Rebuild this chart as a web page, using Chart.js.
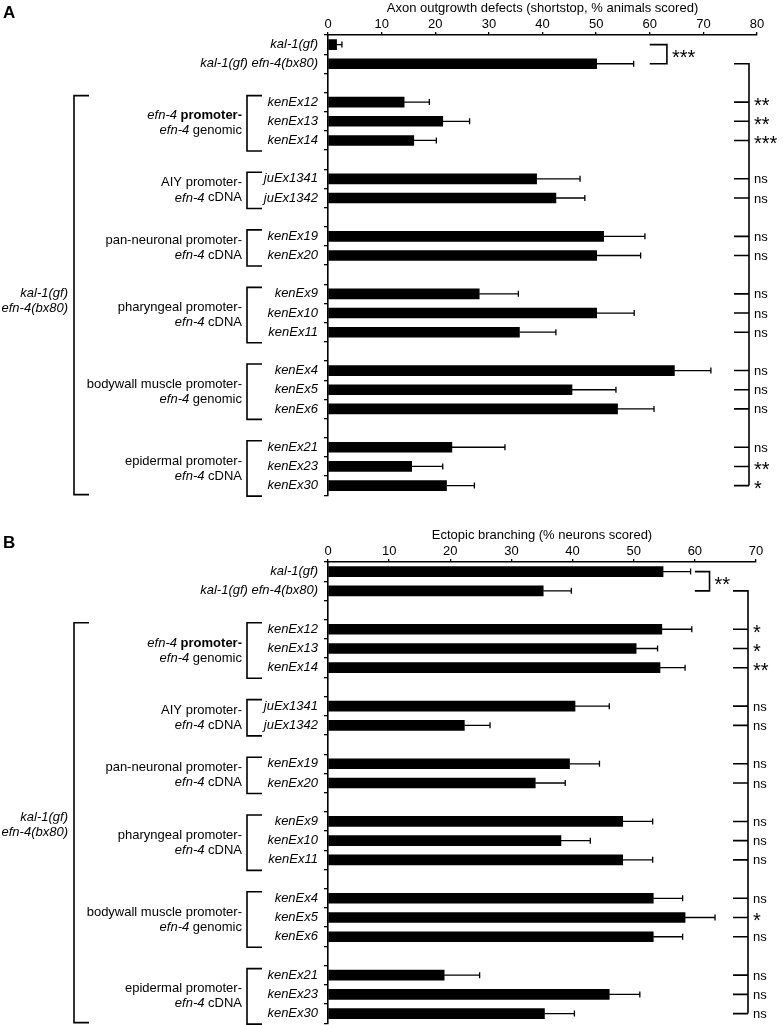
<!DOCTYPE html>
<html>
<head>
<meta charset="utf-8">
<script src="https://cdn.jsdelivr.net/npm/chart.js@4.4.1/dist/chart.umd.min.js"></script>
<style>
  html, body { margin: 0; padding: 0; background: #fff; }
  body { width: 783px; height: 1025px; position: relative; overflow: hidden; }
  canvas { position: absolute; left: 0; }
  #chartA { top: 0; }
  #chartB { top: 510px; }
</style>
</head>
<body>
<canvas id="chartA" width="783" height="509"></canvas>
<canvas id="chartB" width="783" height="527"></canvas>
<script>
const FAMILY = "'Liberation Sans', Arial, Helvetica, sans-serif";

// rows, blanks ('') separate the construct groups
const strains = [
  'kal-1(gf)', 'kal-1(gf) efn-4(bx80)', '',
  'kenEx12', 'kenEx13', 'kenEx14', '',
  'juEx1341', 'juEx1342', '',
  'kenEx19', 'kenEx20', '',
  'kenEx9', 'kenEx10', 'kenEx11', '',
  'kenEx4', 'kenEx5', 'kenEx6', '',
  'kenEx21', 'kenEx23', 'kenEx30'
];

// panel A: axon outgrowth defects
const shortstop =    [1.6, 50.1, null, 14.2, 21.4, 16.0, null, 38.9, 42.5, null, 51.4, 50.1, null, 28.2, 50.1, 35.7, null, 64.6, 45.5, 54.0, null, 23.1, 15.6, 22.1];
const shortstopErr = [1.0, 6.9, null, 4.7, 5.0, 4.2, null, 8.1, 5.4, null, 7.7, 8.2, null, 7.3, 7.0, 6.8, null, 6.8, 8.2, 6.8, null, 9.9, 5.8, 5.2];
const sigA = ['', '', '', '**', '**', '***', '', 'ns', 'ns', '', 'ns', 'ns', '', 'ns', 'ns', 'ns', '', 'ns', 'ns', 'ns', '', 'ns', '**', '*'];

// panel B: ectopic branching
const branching =    [54.8, 35.2, null, 54.6, 50.4, 54.3, null, 40.4, 22.3, null, 39.5, 33.9, null, 48.2, 38.1, 48.2, null, 53.2, 58.4, 53.2, null, 19.0, 46.0, 35.4];
const branchingErr = [4.5, 4.6, null, 4.9, 3.5, 4.1, null, 5.6, 4.2, null, 4.9, 4.9, null, 4.9, 4.8, 4.9, null, 4.8, 4.9, 4.8, null, 5.8, 5.0, 4.9];
const sigB = ['', '', '', '*', '*', '**', '', 'ns', 'ns', '', 'ns', 'ns', '', 'ns', 'ns', 'ns', '', 'ns', '*', 'ns', '', 'ns', 'ns', 'ns'];

const ticksA = [0, 10, 20, 30, 40, 50, 60, 70, 80];
const ticksB = [0, 10, 20, 30, 40, 50, 60, 70];

// construct groups: [first row, last row], label lines as [text, style] segments
const groupRows = [[3, 5], [7, 8], [10, 11], [13, 15], [17, 19], [21, 23]];
const groupLabels = [
  [[['efn-4', 'i'], [' promoter-', 'b']], [['efn-4', 'i'], [' genomic', 'n']]],
  [[['AIY promoter-', 'n']], [['efn-4', 'i'], [' cDNA', 'n']]],
  [[['pan-neuronal promoter-', 'n']], [['efn-4', 'i'], [' cDNA', 'n']]],
  [[['pharyngeal promoter-', 'n']], [['efn-4', 'i'], [' cDNA', 'n']]],
  [[['bodywall muscle promoter-', 'n']], [['efn-4', 'i'], [' genomic', 'n']]],
  [[['epidermal promoter-', 'n']], [['efn-4', 'i'], [' cDNA', 'n']]]
];
const backgroundLabel = ['kal-1(gf)', 'efn-4(bx80)'];

function font(style, size) {
  const s = size || 13;
  if (style === 'i') return 'italic ' + s + 'px ' + FAMILY;
  if (style === 'b') return 'bold ' + s + 'px ' + FAMILY;
  return s + 'px ' + FAMILY;
}

function drawRich(ctx, segs, xRight, y) {
  let x = xRight;
  ctx.textAlign = 'left';
  for (let k = segs.length - 1; k >= 0; k--) {
    ctx.font = font(segs[k][1]);
    x -= ctx.measureText(segs[k][0]).width;
    ctx.fillText(segs[k][0], x, y);
  }
}

function drawSig(ctx, txt, x, y) {
  if (!txt) return;
  ctx.textAlign = 'left';
  if (txt === 'ns') {
    ctx.font = font('n');
    ctx.textBaseline = 'middle';
    ctx.fillText(txt, x, y + 1);
  } else {
    ctx.font = font('n', 20);
    ctx.textBaseline = 'alphabetic';
    ctx.fillText(txt, x, y + 9.5);
  }
}

function annotations(opts) {
  return {
    id: 'annotations',
    afterDatasetsDraw(chart) {
      const { ctx, chartArea, scales: { x, y } } = chart;
      const vals = chart.data.datasets[0].data;
      ctx.save();
      ctx.strokeStyle = '#000';
      ctx.fillStyle = '#000';

      // error bars
      ctx.lineWidth = 1.3;
      vals.forEach((v, i) => {
        if (v == null) return;
        const yy = y.getPixelForValue(i);
        const x0 = x.getPixelForValue(v);
        const x1 = x.getPixelForValue(v + opts.errs[i]);
        ctx.beginPath();
        ctx.moveTo(x0, yy); ctx.lineTo(x1, yy);
        ctx.moveTo(x1, yy - 3); ctx.lineTo(x1, yy + 3);
        ctx.stroke();
      });

      ctx.lineWidth = 1.6;
      const L = chartArea.left, R = chartArea.right;

      // construct brackets and labels
      ctx.textBaseline = 'middle';
      groupRows.forEach(([a, b], g) => {
        const top = y.getPixelForValue(a) - 6.5;
        const bot = y.getPixelForValue(b) + 10.5;
        ctx.beginPath();
        ctx.moveTo(L - 66, top); ctx.lineTo(L - 81, top);
        ctx.lineTo(L - 81, bot); ctx.lineTo(L - 66, bot);
        ctx.stroke();
        const mid = (y.getPixelForValue(a) + y.getPixelForValue(b)) / 2 + 2;
        const lines = groupLabels[g];
        drawRich(ctx, lines[0], L - 86, mid - 7.5);
        drawRich(ctx, lines[1], L - 86, mid + 7.5);
      });

      // background bracket
      const bTop = y.getPixelForValue(groupRows[0][0]) - 6.5;
      const bBot = y.getPixelForValue(groupRows[groupRows.length - 1][1]) + 9;
      ctx.beginPath();
      ctx.moveTo(L - 239, bTop); ctx.lineTo(L - 254, bTop);
      ctx.lineTo(L - 254, bBot); ctx.lineTo(L - 239, bBot);
      ctx.stroke();
      const bMid = (bTop + bBot) / 2 + opts.bgShift;
      ctx.font = font('i');
      ctx.textAlign = 'right';
      ctx.fillText(backgroundLabel[0], L - 260, bMid - 7.5);
      ctx.fillText(backgroundLabel[1], L - 260, bMid + 7.5);

      // kal-1(gf) vs kal-1(gf) efn-4 comparison
      const y0 = y.getPixelForValue(0), y1 = y.getPixelForValue(1);
      const xa = x.getPixelForValue(opts.pairX[0]), xb = x.getPixelForValue(opts.pairX[1]);
      ctx.beginPath();
      ctx.moveTo(xa, y0); ctx.lineTo(xb, y0); ctx.lineTo(xb, y1); ctx.lineTo(xa, y1);
      ctx.stroke();
      drawSig(ctx, opts.pairSig, xb + 5, (y0 + y1) / 2);

      // comparisons against kal-1(gf) efn-4(bx80)
      const vx = R - 8, hx = R - 23;
      let last = 0;
      opts.sig.forEach((s, i) => { if (s) last = i; });
      ctx.beginPath();
      ctx.moveTo(hx, y1); ctx.lineTo(vx, y1); ctx.lineTo(vx, y.getPixelForValue(last));
      opts.sig.forEach((s, i) => {
        if (!s) return;
        const yy = y.getPixelForValue(i);
        ctx.moveTo(hx, yy); ctx.lineTo(vx, yy);
      });
      ctx.stroke();
      opts.sig.forEach((s, i) => drawSig(ctx, s, vx + 5, y.getPixelForValue(i)));

      // panel letter
      ctx.font = font('b', 17);
      ctx.textAlign = 'left';
      ctx.textBaseline = 'alphabetic';
      ctx.fillText(opts.panel, 3, opts.panelY);
      ctx.restore();
    }
  };
}

function makeChart(id, cfg) {
  return new Chart(document.getElementById(id), {
    type: 'bar',
    data: {
      labels: strains,
      datasets: [{
        data: cfg.values,
        backgroundColor: '#000',
        borderWidth: 0,
        barThickness: 10
      }]
    },
    options: {
      indexAxis: 'y',
      responsive: false,
      animation: false,
      layout: { padding: { left: 0, right: cfg.padRight, top: cfg.padTop, bottom: 2 } },
      plugins: { legend: { display: false }, tooltip: { enabled: false } },
      scales: {
        x: {
          position: 'top',
          min: 0,
          max: cfg.ticks[cfg.ticks.length - 1],
          afterBuildTicks: (scale) => { scale.ticks = cfg.ticks.map(v => ({ value: v })); },
          afterFit: (scale) => { scale.height = 34; },
          border: { color: '#000', width: 1.6 },
          grid: { drawOnChartArea: false, color: '#000', lineWidth: 1.3, tickLength: 3 },
          ticks: { color: '#000', padding: 0, font: { size: 13, family: FAMILY } },
          title: {
            display: true,
            text: cfg.title,
            color: '#000',
            padding: { top: 0, bottom: 0 },
            font: { size: 13, family: FAMILY }
          }
        },
        y: {
          afterFit: (scale) => { scale.width = 328; },
          border: { color: '#000', width: 1.6 },
          grid: { drawOnChartArea: false, offset: true, color: '#000', lineWidth: 1.3, tickLength: 4 },
          ticks: { autoSkip: false, color: '#000', padding: 6, font: { size: 13, style: 'italic', family: FAMILY } }
        }
      }
    },
    plugins: [annotations(cfg.notes)]
  });
}

Chart.defaults.font.family = FAMILY;

makeChart('chartA', {
  values: shortstop,
  ticks: ticksA,
  title: 'Axon outgrowth defects (shortstop, % animals scored)',
  padRight: 26, padTop: 1,
  notes: { errs: shortstopErr, sig: sigA, pairSig: '***', pairX: [60, 63.2], bgShift: 6, panel: 'A', panelY: 18 }
});

makeChart('chartB', {
  values: branching,
  ticks: ticksB,
  title: 'Ectopic branching (% neurons scored)',
  padRight: 27, padTop: 18,
  notes: { errs: branchingErr, sig: sigB, pairSig: '**', pairX: [60, 62.4], bgShift: 2, panel: 'B', panelY: 38 }
});
</script>
</body>
</html>
